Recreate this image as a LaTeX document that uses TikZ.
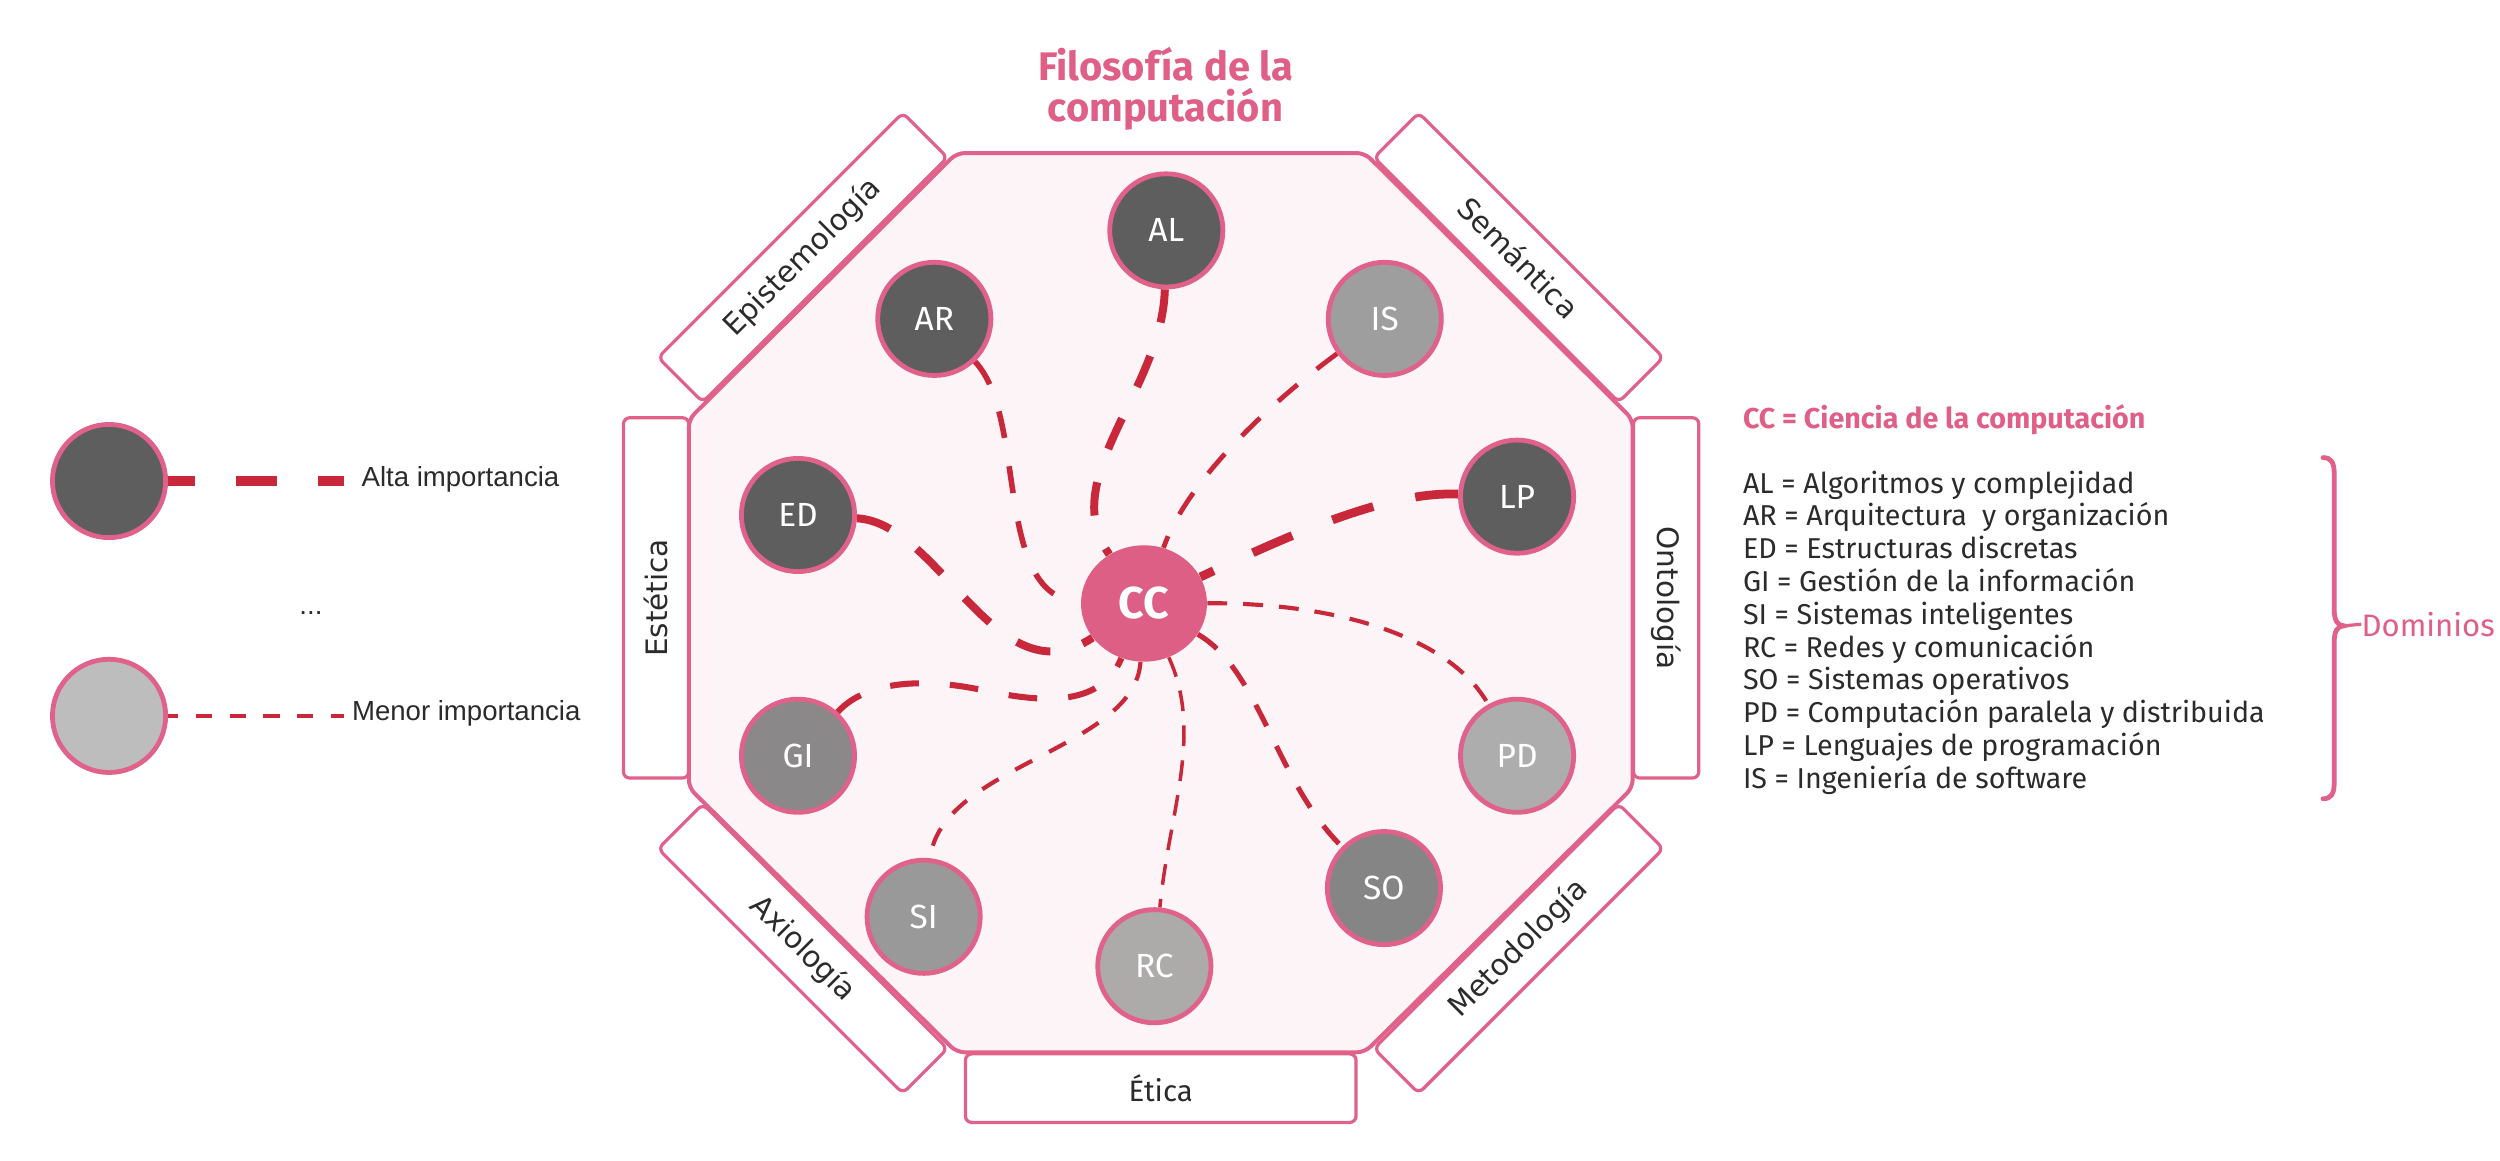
\documentclass[tikz,border=0pt]{standalone}
\usepackage{fontspec}
\setmainfont{Fira Sans}
\newfontfamily\dejavu{DejaVu Sans}
\newfontfamily\libsans{Liberation Sans}
\usetikzlibrary{shapes.geometric}
\definecolor{pk}{HTML}{E0628A}
\definecolor{tpk}{HTML}{DF5F87}
\definecolor{octfill}{HTML}{FCF4F7}
\definecolor{lnred}{HTML}{C9283A}
\definecolor{ccfill}{HTML}{DE5F86}
\definecolor{dk}{HTML}{5E5E5E}
\definecolor{gIS}{HTML}{9E9E9E}
\definecolor{gGI}{HTML}{8A8888}
\definecolor{gSO}{HTML}{858585}
\definecolor{gSI}{HTML}{999999}
\definecolor{gRC}{HTML}{ADAAAA}
\definecolor{gPD}{HTML}{ADADAD}
\definecolor{gLB}{HTML}{BDBDBD}
\definecolor{txt}{HTML}{2B2B2B}
\pgfdeclarelayer{back}
\pgfdeclarelayer{mid}
\pgfsetlayers{back,mid,main}
\begin{document}
\begin{tikzpicture}[x=1pt,y=-1pt,
  circ/.style={circle, draw=pk, line width=3pt, minimum size=71pt, inner sep=0pt, text=white, font=\fontsize{21}{22}\selectfont},
  con/.style={draw=lnred, line cap=butt},
  tab/.style={draw=pk, line width=2pt, fill=white, rounded corners=4pt, minimum height=39.6pt, inner sep=0pt, font=\dejavu\fontsize{18.5}{20}\selectfont, text=txt},
  lst/.style={anchor=base west, inner sep=0pt, text=txt, font=\fontsize{18}{20}\selectfont},
  leg/.style={anchor=base west, inner sep=0pt, text=txt, font=\libsans\fontsize{17.3}{20}\selectfont}
]
\useasboundingbox (0,0) rectangle (1568,728);
\begin{pgfonlayer}{back}
\fill[white] (0,0) rectangle (1568,728);
\node[tab, minimum width=217pt, rotate=45] (tEpi) at (503.5,161.5) {Epistemología};
\node[tab, minimum width=217pt, rotate=-45] (tSem) at (952.5,161.5) {Semántica};
\node[tab, minimum width=217pt, rotate=-45] (tAxi) at (503.5,595) {Axiología};
\node[tab, minimum width=217pt, rotate=45] (tMet) at (952.5,595) {Metodología};
\node[tab, minimum width=226pt, minimum height=41pt, rotate=90] (tEst) at (411.5,375) {Estética};
\node[tab, minimum width=226pt, minimum height=41pt, rotate=-90] (tOnt) at (1045,375) {Ontología};
\node[tab, minimum width=245pt, minimum height=43pt, font=\fontsize{18.5}{20}\selectfont] (tEti) at (728,682.5) {Ética};
\draw[draw=pk, line width=2.5pt, fill=octfill, rounded corners=5pt]
  (600,96) -- (856,96) -- (1024,263) -- (1024,494) -- (856,660) -- (600,660) -- (432,494) -- (432,263) -- cycle;
\end{pgfonlayer}

% title
\node[anchor=base, inner sep=0pt, text=tpk, font=\bfseries\fontsize{25}{26}\selectfont] (title1) at (731,50.2) {Filosofía de la};
\node[anchor=base, inner sep=0pt, text=tpk, font=\bfseries\fontsize{25}{26}\selectfont] (title2) at (731,76.5) {computación};

% domain nodes
\node[circ, fill=dk] (AL) at (731.5,144.5) {AL};
\node[circ, fill=dk] (AR) at (586,200) {AR};
\node[circ, fill=gIS] (IS) at (868.5,200) {IS};
\node[circ, fill=dk] (ED) at (500.5,323) {ED};
\node[circ, fill=dk] (LP) at (951.5,311.5) {LP};
\node[circ, fill=gGI] (GI) at (500.5,474) {GI};
\node[circ, fill=gPD] (PD) at (951.5,474) {PD};
\node[circ, fill=gSI] (SI) at (579.3,575) {SI};
\node[circ, fill=gRC] (RC) at (724,606) {RC};
\node[circ, fill=gSO] (SO) at (868,557) {SO};
\node[ellipse, fill=ccfill, minimum width=79pt, minimum height=73pt, inner sep=0pt, text=white, font=\bfseries\fontsize{28}{30}\selectfont] (CC) at (717.5,378.5) {CC};

\begin{pgfonlayer}{mid}
\draw[con, line width=5pt, dash pattern=on 21pt off 22pt] (AL) .. controls (729,245) and (662,300) .. (CC);
\draw[con, line width=3.5pt, dash pattern=on 17pt off 18pt] (AR) .. controls (645,262) and (622,376) .. (CC);
\draw[con, line width=3pt, dash pattern=on 16pt off 15.5pt] (IS) .. controls (800,250) and (745,300) .. (CC);
\draw[con, line width=5pt, dash pattern=on 22pt off 21pt] (ED) .. controls (590,328) and (625,440) .. (CC);
\draw[con, line width=5.5pt, dash pattern=on 27pt off 27pt] (LP) .. controls (870,308) and (810,335) .. (CC);
\draw[con, line width=2.6pt, dash pattern=on 12.5pt off 10pt] (CC) .. controls (840,378) and (910,400) .. (PD);
\draw[con, line width=3.2pt, dash pattern=on 15pt off 14pt] (CC) .. controls (790,420) and (800,490) .. (SO);
\draw[con, line width=2.2pt, dash pattern=on 13pt off 9pt] (CC) .. controls (755,460) and (733,510) .. (RC);
\draw[con, line width=2.6pt, dash pattern=on 12pt off 12pt] (CC) .. controls (712,470) and (590,480) .. (SI);
\draw[con, line width=3.8pt, dash pattern=on 18pt off 19.5pt] (GI) .. controls (545,425) and (585,426) .. (617,433) .. controls (650,440) and (690,445) .. (CC);
\end{pgfonlayer}

% legend
\node[circ, fill=dk] (LA) at (68.4,301.7) {};
\node[circ, fill=gLB] (LB) at (68.4,449) {};
\coordinate (LAe) at (216,301.7);
\coordinate (LBe) at (216,449);
\begin{pgfonlayer}{mid}
\draw[con, line width=5.9pt, dash pattern=on 25.5pt off 26pt, dash phase=8.9pt] (LA) -- (LAe);
\draw[con, line width=2.5pt, dash pattern=on 10.2pt off 11pt, dash phase=3.8pt] (LB) -- (LBe);
\end{pgfonlayer}
\node[leg] (altaT) at (226.6,304.9) {Alta importancia};
\node[leg] (menorT) at (220.6,452) {Menor importancia};
\node[leg] (dots) at (187.6,385.5) {...};

% right legend
\node[lst, text=tpk, font=\bfseries\fontsize{18}{20}\selectfont] (ccdef) at (1093,268.7) {CC = Ciencia de la computación};
\foreach \t [count=\i] in {AL = Algoritmos y complejidad, AR = Arquitectura \ y organización, ED = Estructuras discretas, GI = Gestión de la información, SI = Sistemas inteligentes, RC = Redes y comunicación, SO = Sistemas operativos, PD = Computación paralela y distribuida, LP = Lenguajes de programación, IS = Ingeniería de software}
  \node[lst] (li\i) at (1093,{309.3+20.56*(\i-1)}) {\t};

\node[anchor=base west, inner sep=0pt, text=tpk, font=\fontsize{19.5}{22}\selectfont] (dom) at (1481,399) {Dominios};
\coordinate (tip) at (1470,392.5);
\draw[draw=pk, line width=3pt, line cap=round]
  (1457,287) .. controls (1462,287) and (1464,290) .. (1464,297) -- (1464,382)
  .. controls (1464,389) and (1466,392.5) .. (tip)
  .. controls (1466,392.5) and (1464,396) .. (1464,403) -- (1464,491)
  .. controls (1464,498) and (1462,501) .. (1457,501);
\draw[draw=pk, line width=2pt] (tip) -- (dom.west);
\end{tikzpicture}
\end{document}
